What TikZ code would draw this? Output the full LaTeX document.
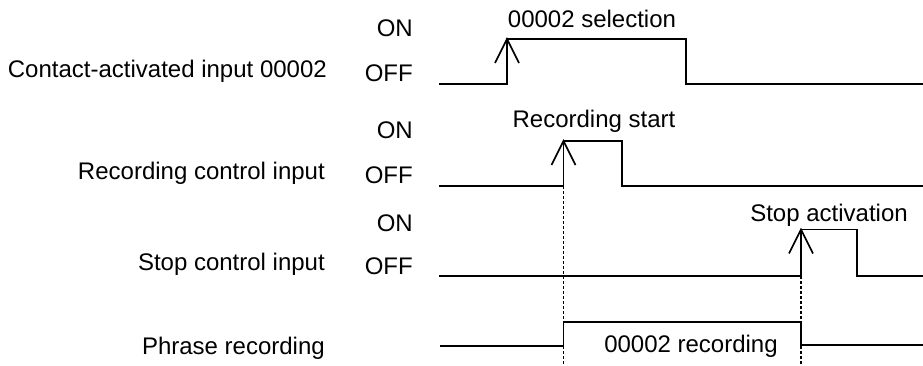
\documentclass[tikz,border=0pt]{standalone}
\usepackage{fontspec}
\setmainfont{Liberation Sans}
\begin{document}
\begin{tikzpicture}[x=1pt,y=-1pt,
  lbl/.style={inner sep=0pt,font=\fontsize{24}{27}\selectfont},
  sig/.style={line width=1.8pt,line join=miter},
  tip/.style={line width=1.6pt},
  guide/.style={line width=1.6pt,dash pattern=on 3pt off 2pt}]
\useasboundingbox (0,0) rectangle (923,366);
% left labels
\node[lbl,anchor=base east] (l1) at (327,78) {Contact-activated input 00002};
\node[lbl,anchor=base east] (l2) at (325,180) {Recording control input};
\node[lbl,anchor=base east] (l3) at (325,270) {Stop control input};
\node[lbl,anchor=base east] (l4) at (325,354) {Phrase recording};
% ON/OFF
\node[lbl,anchor=base east] (on1) at (413,37) {ON};
\node[lbl,anchor=base east] (off1) at (413,82) {OFF};
\node[lbl,anchor=base east] (on2) at (413,139) {ON};
\node[lbl,anchor=base east] (off2) at (413,184) {OFF};
\node[lbl,anchor=base east] (on3) at (413,231) {ON};
\node[lbl,anchor=base east] (off3) at (413,274) {OFF};
% event labels
\node[lbl,anchor=base] (e1) at (592,28) {00002 selection};
\node[lbl,anchor=base] (e2) at (594,128) {Recording start};
\node[lbl,anchor=base] (e3) at (829,221) {Stop activation};
\node[lbl,anchor=base] (e4) at (691,352) {00002 recording};
% coordinates
\coordinate (a1) at (507,39);
\coordinate (a2) at (563.5,141);
\coordinate (a3) at (801,229.5);
% row 1
\draw[sig] (439,84) -- (507,84) -- (a1) -- (686,39) -- (686,84) -- (923,84);
\draw[tip] (495,63) -- (a1) -- (519,63);
% row 2
\draw[sig] (439,186) -- (563.5,186) -- (a2) -- (622,141) -- (622,186) -- (923,186);
\draw[tip] (551.5,165) -- (a2) -- (575.5,165);
% row 3
\draw[sig] (439,276) -- (801,276) -- (a3) -- (857,229.5) -- (857,276) -- (923,276);
\draw[tip] (789,253.5) -- (a3) -- (813,253.5);
% guides
\draw[guide] (a2) ++(0,45) -- (563.5,366);
\draw[guide] (a3) ++(0,46.5) -- (801,366);
% row 4
\draw[sig] (440,346) -- (563.5,346) -- (563.5,322) -- (801,322) -- (801,345) -- (923,345);
\draw[sig] (563.5,322) -- (563.5,347);
\end{tikzpicture}
\end{document}
